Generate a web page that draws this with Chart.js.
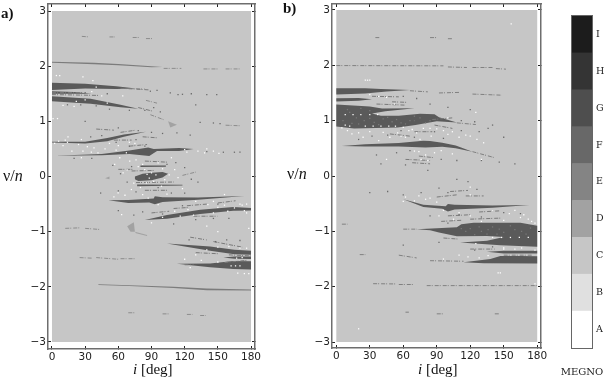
<!DOCTYPE html>
<html>
<head>
<meta charset="utf-8">
<script src="https://cdn.jsdelivr.net/npm/chart.js@4/dist/chart.umd.min.js"></script>
<style>
  html, body { margin: 0; padding: 0; background: #fff; }
  #page { position: relative; width: 604px; height: 378px; overflow: hidden; }
  canvas { position: absolute; top: 0; }
  .lbl { position: absolute; font-family: "Liberation Serif", serif; color: #111; white-space: nowrap; line-height: 1; }
</style>
</head>
<body>
<div id="page">
  <canvas id="chartA" width="280" height="378" style="left:0;width:280px;height:378px"></canvas>
  <canvas id="chartB" width="270" height="378" style="left:280px;width:270px;height:378px"></canvas>
  <canvas id="chartBar" width="54" height="378" style="left:550px;width:54px;height:378px"></canvas>
  <div class="lbl" style="left:1px;top:6px;font-size:15px;font-weight:bold">a)</div>
  <div class="lbl" style="left:283px;top:1px;font-size:15px;font-weight:bold">b)</div>
  <div class="lbl" style="left:3px;top:168px;font-size:16px">ν/<i>n</i></div>
  <div class="lbl" style="left:287px;top:166px;font-size:16px">ν/<i>n</i></div>
  <div class="lbl" style="left:133px;top:362px;font-size:15px"><i>i</i> [deg]</div>
  <div class="lbl" style="left:418px;top:362px;font-size:15px"><i>i</i> [deg]</div>
</div>
<script>
const xTicks = [0, 30, 60, 90, 120, 150, 180];
const yTicks = [-3, -2, -1, 0, 1, 2, 3];
const megnoLabels = ["A", "B", "C", "D", "E", "F", "G", "H", "I"];
const megnoColors = ["#ffffff", "#e0e0e0", "#c6c6c6", "#a2a2a2", "#848484", "#686868", "#4e4e4e", "#343434", "#1c1c1c"];

const GRAY = "#c6c6c6", DARK = "#5a5a5a", MID = "#7c7c7c", LIGHT = "#a2a2a2";
const plotRect = [[0, -3], [180, -3], [180, 3], [0, 3]];

// panel a) dark wedges, [i, nu]
const aDark = [
  [[0, 1.70], [30, 1.68], [58, 1.635], [76, 1.595], [58, 1.585], [30, 1.595], [0, 1.57]],
  [[0, 1.545], [20, 1.53], [36, 1.50], [20, 1.50], [0, 1.50]],
  [[0, 1.455], [35, 1.41], [62, 1.30], [78, 1.23], [62, 1.255], [35, 1.32], [0, 1.365]],
  [[0, .63], [30, .63], [50, .70], [65, .76], [85, .81], [65, .72], [50, .64], [30, .60], [0, .615]],
  [[2, .375], [45, .41], [70, .47], [87, .525], [92, .50], [115, .515], [128, .50], [115, .46], [95, .46], [88, .37], [70, .41], [45, .385]],
  [[75, 0], [82, .05], [90, .07], [100, .08], [105, .05], [100, -.02], [90, -.07], [78, -.08], [75, -.05]],
  [[80, .20], [103, .20], [103, .175], [80, .17]],
  [[77, -.145], [118, -.15], [118, -.165], [77, -.175]],
  [[51, -.43], [69, -.425], [92, -.40], [93, -.36], [100, -.375], [132, -.38], [174, -.355], [132, -.42], [100, -.46], [93, -.505], [88, -.47], [69, -.48]],
  [[84, -.79], [104, -.70], [134, -.605], [164, -.555], [180, -.57], [180, -.615], [164, -.62], [134, -.68], [104, -.765]],
  [[104, -1.215], [143, -1.27], [165, -1.33], [180, -1.345], [180, -1.42], [165, -1.41], [143, -1.345], [120, -1.27]],
  [[155, -1.47], [165, -1.45], [180, -1.45], [180, -1.495], [165, -1.49]],
  [[113, -1.58], [143, -1.575], [164, -1.53], [180, -1.535], [180, -1.685], [164, -1.675], [143, -1.645]]
];
// panel a) mid gray bands
const aMid = [
  [[0, 2.08], [38, 2.06], [60, 2.04], [90, 2.0], [100, 1.985], [90, 1.98], [60, 2.015], [38, 2.035], [0, 2.06]],
  [[42, -1.955], [70, -1.97], [110, -2.0], [140, -2.03], [180, -2.05], [180, -2.065], [140, -2.06], [110, -2.02], [70, -1.985], [42, -1.965]]
];
// panel a) pale marks
const aLight = [
  [[105, 1.0], [113, .94], [107, .89]],
  [[68, -.9], [74, -.83], [75, -1.0], [71, -1.0]],
  [[75, -1.0], [86, -1.06], [86, -1.08], [76, -1.03]],
  [[48, -.03], [52, .0], [52, -.05]]
];
// panel a) short dashes
const aDashes = [
  [[27, 2.54], [34, 2.53]], [[52, 2.53], [57, 2.53]], [[73, 2.52], [79, 2.52]], [[85, 2.5], [91, 2.5]],
  [[101, 1.96], [117, 1.96]], [[137, 1.95], [150, 1.95]], [[157, 1.95], [170, 1.95]],
  [[157, .93], [170, .92]], [[76, 1.59], [84, 1.585]],
  [[89, 1.12], [101, 1.03]], [[12, -.94], [26, -.93]], [[30, -.94], [43, -.96]],
  [[25, -1.47], [36, -1.48]], [[40, -1.47], [60, -1.5]], [[62, -1.49], [75, -1.49]],
  [[69, -2.47], [75, -2.47]], [[100, -2.49], [106, -2.49]], [[122, -2.5], [127, -2.5]], [[134, -2.52], [139, -2.52]],
  [[118, .02], [130, .08]], [[85, 1.38], [95, 1.33]]
];
// panel a) thin dark streaks beside the wedges
const aStreaks = [
  [[0, 1.485], [42, 1.47]], [[0, 1.52], [28, 1.52]], [[62, 1.60], [88, 1.57]], [[78, 1.25], [92, 1.18]],
  [[40, .86], [56, .84]], [[62, .80], [76, .84]], [[70, .55], [86, .58]], [[56, .66], [72, .66]], [[82, .72], [96, .70]],
  [[60, .13], [74, .13]], [[84, .28], [104, .26]], [[72, .10], [92, .11]], [[76, -.11], [110, -.10]],
  [[84, -.25], [104, -.25]], [[90, -.66], [106, -.63]], [[122, -.53], [140, -.50]], [[128, -.72], [150, -.72]],
  [[150, -.48], [166, -.44]], [[110, -.58], [124, -.56]], [[146, -1.18], [172, -1.28]], [[130, -1.38], [150, -1.40]],
  [[160, -1.42], [180, -1.44]], [[120, -1.60], [128, -1.60]], [[156, -1.56], [176, -1.52]], [[125, -1.1], [140, -1.15]]
];
const aWhite = [
  [2.4, .60], [10, .56], [14.5, .72], [26.6, .67], [35.6, .44], [26.6, .34], [41.6, .43], [56.7, .22], [61.3, .34], [64.3, .066],
  [67.3, .43], [70.3, .28], [83.9, .126], [85.4, -.115], [90, .066], [96, .247], [102, -.055], [108, .34], [99, -.176], [111, .126],
  [71.8, -.236], [59.8, -.297], [132, .458], [138, .428], [120, .489], [156, -.327], [165, -.57], [159, -.63], [141, -.508], [123, -.6],
  [111, -.63], [96, -.51], [87, -.39], [63, -.69], [28, 1.805], [37, 1.74], [64, 1.46], [45, 1.46], [36, 1.54], [20, 1.27],
  [4, 1.83], [7, 1.83], [1, 1.05], [5, 1.05], [10, 1.29], [22, 1.36], [30, 1.39], [50, 1.33], [70, .62], [60, .56],
  [75, .60], [38, .52], [48, .50], [14, .62], [6, .64], [150, -1.28], [160, -1.27], [170, -1.3], [176, -1.3], [150, -1.55],
  [162, -1.62], [166, -1.62], [170, -1.62], [174, -1.76], [178, -1.76], [168, -1.75], [130, -1.42], [120, -1.5], [135, -1.52], [140, -1.33],
  [172, -.52], [176, -.5], [178, -.94], [167, -1.48], [172, -1.47], [125, -1.65], [151, .42], [40, 1.62], [140, -.9], [150, -1.0],
  [76, .30], [78, .18], [82, .22], [86, .04], [92, -.09], [94, .03], [88, -.03], [80, -.2], [74, -.12], [68, .12],
  [100, .14], [106, .03], [114, -.02], [118, -.22], [104, -.32], [82, -.33], [66, -.34], [56, -.37], [130, -.45], [146, -.45],
  [150, -.56], [156, -.52], [170, -.5], [174, -.62], [146, -.66], [128, -.7], [116, -.72], [100, -.74], [90, -.84], [176, -.66],
  [12, .66], [24, .58], [32, .54], [52, .6], [18, .46], [28, .46], [58, .48], [140, .50], [146, .46], [122, .44]
];
const aSpeck = [
  [89, 1.546], [95, 1.56], [107, 1.516], [114, 1.485], [126, 1.5], [140, 1.485], [149, 1.485], [118, 1.49], [134, .98], [146, .97],
  [152, .96], [113, .79], [125, .75], [140, .45], [155, .44], [165, .44], [170, .44], [60, .88], [78, .83], [90, .80],
  [100, .78], [70, .55], [84, .55], [35, .72], [45, .74], [55, .20], [62, .05], [68, -.1], [72, .18], [112, .25],
  [120, .16], [126, -.05], [132, -.1], [120, -.3], [108, -.3], [44, -.3], [60, -.26], [76, -.28], [100, -.68], [82, -.64],
  [74, -.7], [60, -.62], [130, -.78], [146, -.76], [160, -.76], [110, -.86], [148, -1.18], [158, -1.15], [170, -1.16], [124, -1.15],
  [36, .33], [20, .33], [58, .62], [76, .67], [96, -.2], [104, .22], [118, -.53], [150, -.5], [30, 1.0], [130, 1.3],
  [70, 1.2], [84, 1.2], [92, 1.25], [98, 1.17], [14, 1.3], [26, 1.3], [40, 1.28], [52, 1.22], [30, 1.52], [50, 1.5]
];

// panel b) dark wedges
const bDark = [
  [[0, 1.585], [26, 1.585], [40, 1.57], [66, 1.555], [45, 1.525], [26, 1.49], [0, 1.47]],
  [[0, 1.405], [20, 1.41], [32, 1.385], [20, 1.36], [0, 1.345]],
  [[0, 1.29], [30, 1.255], [41, 1.22], [70, 1.225], [44, 1.17], [32, 1.13], [40, 1.09], [56, 1.09], [75, 1.125], [88, 1.115], [92, 1.06], [108, .965], [90, .99], [71, .92], [55, .875], [16, .86], [0, .895]],
  [[5, .54], [26, .575], [56, .595], [78, .635], [84, .63], [95, .60], [107, .55], [122, .44], [107, .50], [95, .53], [80, .515], [56, .535], [26, .535]],
  [[60, -.42], [78, -.52], [98, -.545], [100, -.505], [106, -.52], [140, -.535], [173, -.525], [140, -.575], [106, -.605], [100, -.64], [95, -.59], [78, -.56]],
  [[72, -.96], [108, -.925], [112, -.87], [123, -.845], [165, -.845], [180, -.90], [180, -1.28], [147, -1.25], [111, -1.20], [135, -1.17], [150, -1.10], [135, -1.085], [108, -1.09], [92, -1.02], [84, -.98]],
  [[135, -1.37], [150, -1.35], [180, -1.35], [180, -1.40], [150, -1.40]],
  [[114, -1.56], [138, -1.50], [147, -1.445], [165, -1.445], [180, -1.45], [180, -1.58], [132, -1.575]]
];
const bDashes = [
  [[0, 1.995], [96, 1.99]], [[100, 1.97], [117, 1.96]], [[122, 1.96], [140, 1.96]], [[143, 1.94], [152, 1.93]],
  [[35, 2.5], [38.5, 2.5]], [[84, 2.5], [90, 2.5]], [[100, 2.48], [104, 2.48]],
  [[66, 1.54], [82, 1.52]], [[92, 1.5], [110, 1.51]], [[122, 1.48], [148, 1.46]],
  [[5, -.87], [10, -.87]], [[21, -1.42], [26, -1.42]], [[33, -1.945], [54, -1.95]], [[56, -1.96], [70, -1.96]],
  [[62, -2.46], [65, -2.46]], [[90, -2.49], [96, -2.49]], [[142, -2.49], [146, -2.49]],
  [[81, -1.98], [180, -1.98]], [[74, .36], [88, .33]], [[56, -1.43], [72, -1.48]], [[84, -1.53], [114, -1.54]],
  [[60, -.96], [72, -.96]], [[122, .44], [142, .33]], [[108, .96], [125, .93]]
];
const bStreaks = [
  [[36, 1.30], [62, 1.28]], [[32, 1.44], [56, 1.43]], [[50, 1.34], [64, 1.33]], [[86, 1.02], [104, 1.05]],
  [[70, .80], [86, .80]], [[48, .76], [66, .72]], [[88, .92], [104, .86]], [[62, .30], [84, .28]], [[68, .24], [84, .22]],
  [[116, -.36], [132, -.36]], [[102, -.28], [118, -.26]], [[100, -.72], [120, -.70]], [[120, -.78], [148, -.76]],
  [[94, -.82], [112, -.80]], [[96, -1.12], [110, -1.14]], [[120, -1.32], [142, -1.32]], [[150, -1.43], [176, -1.43]],
  [[128, -.65], [146, -.63]], [[90, -.38], [108, -.34]]
];
const bWhite = [
  [156.7, 2.75], [26, 1.73], [28, 1.73], [30, 1.73], [8, 1.11], [15, 1.11], [22, 1.11], [30, 1.11], [37, 1.11], [26, .90],
  [33, .90], [40, .90], [47, .90], [53, .90], [5, .87], [10, .82], [20, .78], [30, .80], [42, .79], [55, .78],
  [65, .82], [78, .86], [90, .85], [100, .75], [110, .70], [62, .70], [75, .66], [85, .72], [120, .72], [132, .60],
  [45, 1.42], [38, 1.44], [30, 1.47], [52, 1.30], [76, .30], [82, .28], [70, .45], [100, 1.05], [125, 1.15], [140, -1.11],
  [148, -1.11], [156, -1.11], [164, -1.11], [172, -1.11], [150, -.80], [165, -.75], [175, -.82], [120, -.72], [105, -.78], [92, -.72],
  [62, -.38], [70, -.45], [80, -.42], [90, -.47], [140, -.63], [160, -.62], [120, -.34], [145, -1.75], [147, -1.75], [160, -1.32],
  [178, -1.95], [178, -1.34], [150, -1.32], [110, -1.43], [96, -1.5], [45, .30], [20, -2.76], [130, .30], [120, -.2],
  [68, .84], [72, .78], [84, .86], [96, .82], [104, .80], [116, .74], [126, .66], [58, .72], [48, .70], [38, .64],
  [24, .70], [14, .76], [8, .92], [12, .90], [60, .88], [74, .44], [88, .42], [94, .46], [104, .40], [80, .38],
  [155, -.68], [168, -.70], [172, -.78], [178, -.85], [130, -.82], [110, -.66], [96, -.62], [84, -.40], [74, -.36], [60, -.46],
  [125, -1.22], [150, -1.3], [166, -1.3], [136, -1.44], [128, -1.48], [118, -1.46]
];
const bSpeck = [
  [20, .66], [32, .72], [46, .74], [58, .82], [70, .70], [88, .80], [96, .68], [112, .82], [128, .80], [140, .92],
  [54, .42], [66, .46], [36, .38], [40, .22], [62, .20], [94, .30], [108, .28], [130, .28], [146, .25], [160, .22],
  [82, .10], [108, -.06], [92, -.22], [100, -.3], [126, -.24], [118, -.1], [60, -.34], [46, -.28], [30, -.3], [76, -.3],
  [110, -.7], [130, -.74], [100, -.85], [60, -1.25], [92, -1.2], [124, -1.34], [140, -1.28], [165, -.68], [150, -.66], [84, -.72],
  [100, 1.24], [120, 1.2], [72, 1.4], [60, 1.44], [84, 1.3], [70, 1.0], [112, 1.0], [124, .98], [136, .86], [150, .70]
];
// lighter pixels inside the big block of b)
const bTexture = [
  [10, 1.2], [18, 1.05], [25, 1.0], [34, .97], [42, 1.03], [50, .98], [58, .96], [66, 1.0], [75, 1.05], [84, 1.0],
  [14, .95], [30, 1.18], [22, 1.22], [120, -.95], [130, -1.0], [140, -.92], [150, -1.02], [160, -.97], [170, -1.05], [135, -1.05],
  [6, 1.0], [12, 1.15], [20, .94], [30, 1.04], [38, .93], [46, 1.06], [54, 1.02], [62, .94], [70, 1.08], [80, .96],
  [116, -1.0], [124, -1.06], [128, -.92], [136, -.97], [144, -1.05], [156, -.9], [166, -1.0], [174, -.94], [146, -.96], [112, -.95]
];

const pts = (list) => list.map(([x, y]) => ({ x, y }));

function polygon(list, color) {
  return { data: pts(list), showLine: true, fill: "shape", borderWidth: 0, pointRadius: 0, tension: 0, backgroundColor: color };
}
function dash(list, color) {
  return { data: pts(list), showLine: true, fill: false, borderWidth: 1, borderColor: color, borderDash: [4, 1, 1, 2], pointRadius: 0, tension: 0 };
}
function specks(list, color) {
  return { data: pts(list), showLine: false, pointStyle: "rect", pointRadius: 0.9, borderWidth: 0, backgroundColor: color };
}

// keep the frame where the reference has it, whatever the tick labels need
function fixedBox(size) {
  return (scale) => {
    if (scale.isHorizontal()) scale.height = size;
    else scale.width = size;
    scale.paddingLeft = scale.paddingRight = scale.paddingTop = scale.paddingBottom = 0;
  };
}

function axisOptions(position, ticksList, min, max, box, showLabels) {
  return {
    type: "linear",
    position: position,
    min: min,
    max: max,
    afterBuildTicks: (scale) => { scale.ticks = ticksList.map((value) => ({ value })); },
    afterFit: fixedBox(box),
    border: { display: true, color: "#6e6e6e", width: 1.5, dash: [1, 1] },
    grid: { drawOnChartArea: false, tickLength: -3, tickColor: "#222", tickWidth: 1 },
    ticks: {
      display: showLabels,
      padding: 5,
      autoSkip: false,
      maxRotation: 0,
      color: "#222",
      font: { family: "'DejaVu Sans'", size: 10.5 },
      callback: (value) => String(value).replace("-", "\u2212")
    }
  };
}

function panel(id, layers, frame) {
  const paintOrder = [polygon(plotRect, GRAY)].concat(layers);
  new Chart(document.getElementById(id), {
    type: "scatter",
    data: { datasets: paintOrder.reverse() },
    options: {
      responsive: false,
      animation: false,
      events: [],
      layout: { padding: 0 },
      plugins: { legend: { display: false }, tooltip: { enabled: false } },
      scales: {
        x: axisOptions("bottom", xTicks, frame.xMin, frame.xMax, frame.bottom, true),
        x2: axisOptions("top", xTicks, frame.xMin, frame.xMax, frame.top, false),
        y: axisOptions("left", yTicks, -frame.yMax, frame.yMax, frame.left, true),
        y2: axisOptions("right", yTicks, -frame.yMax, frame.yMax, frame.right, false)
      }
    }
  });
}

panel("chartA", [
  ...aMid.map((p) => polygon(p, MID)),
  ...aLight.map((p) => polygon(p, LIGHT)),
  ...aDashes.map((p) => dash(p, "#8c8c8c")),
  ...aDark.map((p) => polygon(p, DARK)),
  ...aStreaks.map((p) => dash(p, "#7a7a7a")),
  specks(aSpeck, "#6a6a6a"),
  specks(aWhite, "#ffffff")
], { xMin: -3.6, xMax: 183.6, yMax: 3.127, left: 48, right: 25, top: 4, bottom: 29 });

panel("chartB", [
  ...bDashes.map((p) => dash(p, "#808080")),
  ...bDark.map((p) => polygon(p, DARK)),
  ...bStreaks.map((p) => dash(p, "#7a7a7a")),
  specks(bTexture, "#787878"),
  specks(bSpeck, "#6a6a6a"),
  specks(bWhite, "#ffffff")
], { xMin: -3.85, xMax: 183.4, yMax: 3.107, left: 52, right: 9, top: 1, bottom: 30 });

// MEGNO colour bar
new Chart(document.getElementById("chartBar"), {
  type: "bar",
  data: {
    labels: ["MEGNO"],
    datasets: megnoColors.map((color) => ({ data: [1], backgroundColor: color, barPercentage: 1, categoryPercentage: 1, stack: "m" }))
  },
  options: {
    responsive: false,
    animation: false,
    events: [],
    layout: { padding: 0 },
    plugins: { legend: { display: false }, tooltip: { enabled: false } },
    scales: {
      x: {
        stacked: true,
        afterFit: fixedBox(30),
        border: { color: "#666", width: 2 },
        grid: { display: false },
        ticks: { padding: 10, color: "#222", font: { family: "'DejaVu Serif'", size: 10 } }
      },
      y: {
        stacked: true,
        position: "right",
        min: 0,
        max: 9,
        afterBuildTicks: (scale) => { scale.ticks = megnoLabels.map((_, k) => ({ value: k + 0.5 })); },
        afterFit: fixedBox(12),
        border: { color: "#666", width: 2 },
        grid: { drawOnChartArea: false, drawTicks: false },
        ticks: {
          padding: 4,
          autoSkip: false,
          color: "#222",
          font: { family: "'DejaVu Serif'", size: 9.5 },
          callback: (value) => megnoLabels[Math.floor(value)]
        }
      },
      x2: { position: "top", afterFit: fixedBox(16), border: { color: "#666", width: 2 }, grid: { display: false }, ticks: { display: false } },
      y2: { position: "left", afterFit: fixedBox(22), border: { color: "#666", width: 2 }, grid: { display: false }, ticks: { display: false } }
    }
  }
});
</script>
</body>
</html>
